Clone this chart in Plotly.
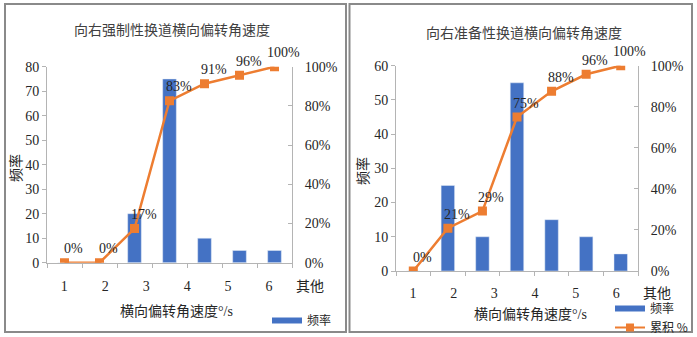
import plotly.graph_objects as go

# ---------------- data ----------------
categories = ["1", "2", "3", "4", "5", "6", "其他"]
left_freq = [0, 0, 20, 75, 10, 5, 5]
left_cum = [0, 0, 17.39, 82.61, 91.30, 95.65, 100]
right_freq = [0, 25, 10, 55, 15, 10, 5]
right_cum = [0, 20.83, 29.17, 75.0, 87.5, 95.83, 100]

left_title = "向右强制性换道横向偏转角速度"
right_title = "向右准备性换道横向偏转角速度"
x_title = "横向偏转角速度°/s"
y_title = "频率"
bar_name = "频率"
line_name = "累积 %"

left_count_ticks = [0, 10, 20, 30, 40, 50, 60, 70, 80]
right_count_ticks = [0, 10, 20, 30, 40, 50, 60]
pct_ticks = [0, 20, 40, 60, 80, 100]

# ---------------- style ----------------
W, H = 697, 337
BLUE = "#4472C4"
ORANGE = "#ED7D31"
AXIS = "#b4b4b4"
TXT = "#262626"
SERIF = "Liberation Serif, Noto Sans CJK SC"
CJK = "Noto Sans CJK SC"


def px(x):
    return x / W


def py(y):
    return 1 - y / H


fig = go.Figure()

# ---- left panel ----
fig.add_trace(go.Bar(x=categories, y=left_freq, marker_color=BLUE, xaxis="x", yaxis="y",
                     showlegend=False, hoverinfo="skip"))
fig.add_trace(go.Scatter(x=categories, y=left_cum, mode="lines+markers",
                         line=dict(color=ORANGE, width=2.5),
                         marker=dict(symbol="square", size=9, color=ORANGE),
                         xaxis="x", yaxis="y2", showlegend=False, hoverinfo="skip"))
fig.add_trace(go.Scatter(x=categories, y=[0] * len(categories), mode="markers",
                         marker=dict(opacity=0), xaxis="x3", yaxis="y5",
                         showlegend=False, hoverinfo="skip"))
fig.add_trace(go.Scatter(x=[None], y=[None], mode="lines", name=bar_name,
                         line=dict(color=BLUE, width=6), legend="legend", xaxis="x", yaxis="y"))

# ---- right panel ----
fig.add_trace(go.Bar(x=categories, y=right_freq, marker_color=BLUE, xaxis="x2", yaxis="y3",
                     showlegend=False, hoverinfo="skip"))
fig.add_trace(go.Scatter(x=categories, y=right_cum, mode="lines+markers",
                         line=dict(color=ORANGE, width=2.5),
                         marker=dict(symbol="square", size=9, color=ORANGE),
                         xaxis="x2", yaxis="y4", showlegend=False, hoverinfo="skip"))
fig.add_trace(go.Scatter(x=categories, y=[0] * len(categories), mode="markers",
                         marker=dict(opacity=0), xaxis="x4", yaxis="y6",
                         showlegend=False, hoverinfo="skip"))
fig.add_trace(go.Scatter(x=[None], y=[None], mode="lines", name=bar_name,
                         line=dict(color=BLUE, width=6), legend="legend2", xaxis="x2", yaxis="y3"))
fig.add_trace(go.Scatter(x=[None], y=[None], mode="lines+markers", name=line_name,
                         line=dict(color=ORANGE, width=2),
                         marker=dict(symbol="square", size=8, color=ORANGE),
                         legend="legend2", xaxis="x2", yaxis="y3"))

tickfont = dict(family=SERIF, size=14, color=TXT)

base_x = dict(type="category", range=[-0.5, 6.5], showticklabels=False, showline=True,
              linecolor=AXIS, linewidth=1, ticks="outside", ticklen=4, tickcolor=AXIS,
              tickson="boundaries", showgrid=False, zeroline=False, fixedrange=True)
label_x = dict(type="category", range=[-0.5, 6.5], showline=False, ticks="",
               showgrid=False, zeroline=False, tickfont=dict(family=SERIF, size=14, color=TXT))
hidden_y = dict(visible=False, range=[0, 1], showgrid=False, zeroline=False)
left_y = dict(showline=True, linecolor=AXIS, ticks="outside", ticklen=4, tickcolor=AXIS,
              showgrid=False, zeroline=False, tickfont=tickfont)
right_y = dict(showline=True, linecolor=AXIS, ticks="inside", ticklen=4, tickcolor=AXIS,
               showgrid=False, zeroline=False, tickfont=tickfont, side="right",
               range=[0, 100], tickmode="array", tickvals=pct_ticks,
               ticktext=[f"{v}%" for v in pct_ticks], ticklabelstandoff=9)

annotations = [
    dict(text=left_title, x=px(171.7), y=py(29.3), xref="paper", yref="paper",
         xanchor="center", yanchor="middle",
         showarrow=False, font=dict(family=CJK, size=14, color="#404040")),
    dict(text=right_title, x=px(524), y=py(32), xref="paper", yref="paper",
         xanchor="center", yanchor="middle",
         showarrow=False, font=dict(family=CJK, size=14, color="#404040")),
    dict(text=x_title, x=px(176.5), y=py(311.7), xref="paper", yref="paper",
         xanchor="center", yanchor="middle",
         showarrow=False, font=dict(family=SERIF, size=14, color=TXT)),
    dict(text=x_title, x=px(530.7), y=py(314), xref="paper", yref="paper",
         xanchor="center", yanchor="middle",
         showarrow=False, font=dict(family=SERIF, size=14, color=TXT)),
    dict(text=y_title, x=px(15), y=py(168), xref="paper", yref="paper", textangle=-90,
         xanchor="center", yanchor="middle",
         showarrow=False, font=dict(family=CJK, size=14, color=TXT)),
    dict(text=y_title, x=px(362), y=py(171), xref="paper", yref="paper", textangle=-90,
         xanchor="center", yanchor="middle",
         showarrow=False, font=dict(family=CJK, size=14, color=TXT)),
]

# data labels of the cumulative lines, placed in data coordinates (category index)
for xr, yr, cum in (("x", "y2", left_cum), ("x2", "y4", right_cum)):
    for i, v in enumerate(cum):
        annotations.append(dict(text=f"{v:.0f}%", x=i, y=v, xref=xr, yref=yr,
                                xanchor="center", yanchor="middle", xshift=9, yshift=14,
                                showarrow=False, font=dict(family=SERIF, size=14, color=TXT)))

fig.update_layout(
    width=W, height=H, margin=dict(l=0, r=0, t=0, b=0, autoexpand=False),
    autosize=False,
    paper_bgcolor="white", plot_bgcolor="white",
    bargap=0.61, showlegend=True,
    xaxis=dict(base_x, domain=[px(47), px(292)], anchor="y"),
    yaxis=dict(left_y, domain=[py(262.7), py(66.7)], range=[0, 80], tickvals=left_count_ticks,
               anchor="x"),
    yaxis2=dict(right_y, overlaying="y", anchor="x"),
    xaxis3=dict(label_x, domain=[px(43.8), px(330.5)], anchor="y5"),
    yaxis5=dict(hidden_y, domain=[py(276), py(270)], anchor="x3"),
    xaxis2=dict(base_x, domain=[px(396), px(638)], anchor="y3"),
    yaxis3=dict(left_y, domain=[py(271), py(65.7)], range=[0, 60], tickvals=right_count_ticks,
                anchor="x2"),
    yaxis4=dict(right_y, overlaying="y3", anchor="x2"),
    xaxis4=dict(label_x, domain=[px(392.7), px(677.3)], anchor="y6"),
    yaxis6=dict(hidden_y, domain=[py(283), py(277)], anchor="x4"),
    legend=dict(x=px(267), y=py(306), xanchor="left", yanchor="top",
                font=dict(family=CJK, size=12, color=TXT), bgcolor="rgba(0,0,0,0)"),
    legend2=dict(x=px(610), y=py(294), xanchor="left", yanchor="top",
                 font=dict(family=CJK, size=12, color=TXT), bgcolor="rgba(0,0,0,0)",
                 tracegroupgap=0),
    annotations=annotations,
    shapes=[
        dict(type="rect", xref="paper", yref="paper", x0=px(5), x1=px(346), y0=py(332),
             y1=py(4), line=dict(color="#8a8a8a", width=2)),
        dict(type="rect", xref="paper", yref="paper", x0=px(349.5), x1=px(692), y0=py(332),
             y1=py(4), line=dict(color="#8a8a8a", width=2)),
    ],
)

fig.write_html("out.html", config={"displayModeBar": False},
               post_script="document.body.style.margin='0';document.body.style.padding='0';")
